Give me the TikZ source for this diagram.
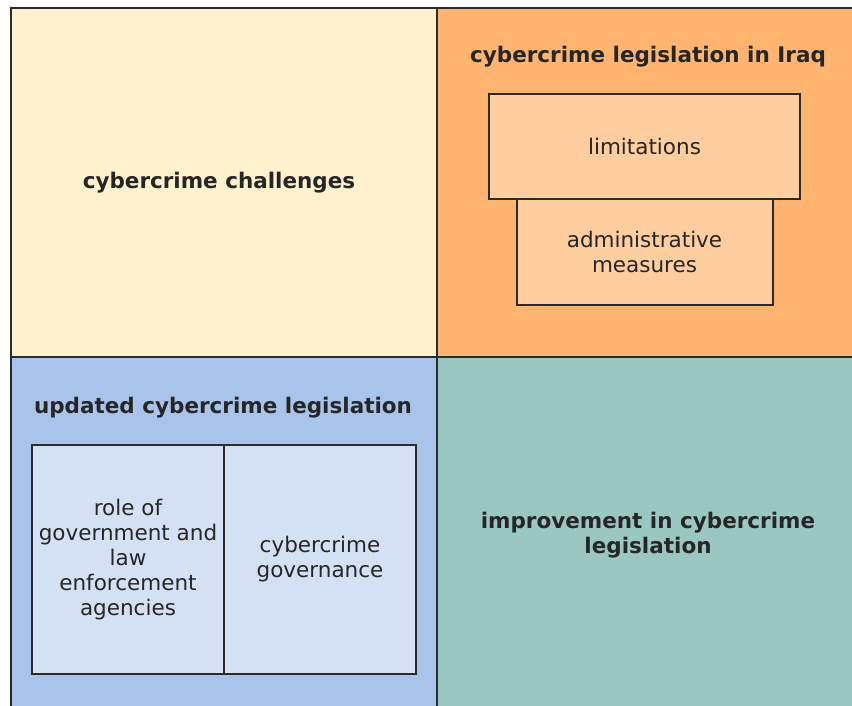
\documentclass[tikz,border=0pt]{standalone}
\usepackage{fontspec}
\setmainfont{DejaVu Sans}
\usetikzlibrary{positioning}

\definecolor{yellowbg}{HTML}{FFF2CC}
\definecolor{orangebg}{HTML}{FFB570}
\definecolor{orangebox}{HTML}{FFCE9F}
\definecolor{bluebg}{HTML}{A9C4EB}
\definecolor{bluebox}{HTML}{D4E1F5}
\definecolor{greenbg}{HTML}{9AC7BF}
\definecolor{edge}{HTML}{2B2B2B}
\definecolor{ink}{HTML}{262626}

\newcommand{\diagfont}{\fontsize{21.5}{25}\selectfont}

\tikzset{
  quad/.style={draw=edge, line width=2.5pt, inner sep=0pt, outer sep=0pt, anchor=north west},
  subbox/.style={draw=edge, line width=2pt, inner sep=2pt, outer sep=0pt, align=center, text=ink},
  title/.style={font=\diagfont\bfseries, text=ink, align=center},
}

\begin{document}
\begin{tikzpicture}[x=1pt, y=-1pt, font=\diagfont]
  \useasboundingbox (0,0) rectangle (852,705);
  \clip (0,0) rectangle (852,705);

  % Quadrants

  \node[quad, fill=yellowbg, minimum width=426pt, minimum height=349pt] (qchal) at (11,8) {};
  \node[quad, fill=orangebg, minimum width=430pt, minimum height=349pt] (qiraq) at (437,8) {};
  \node[quad, fill=bluebg, minimum width=426pt, minimum height=360pt] (qupd) at (11,357) {};
  \node[quad, fill=greenbg, minimum width=430pt, minimum height=360pt] (qimpr) at (437,357) {};

  % Top left

  \node[title] (chal) at (219,183) {cybercrime challenges};

  % Top right

  \node[title] (iraq) at (648,57) {cybercrime legislation in Iraq};
  \node[subbox, fill=orangebox, minimum width=311pt, minimum height=105pt] (limit) at (644.5,146.5) {limitations};
  \node[subbox, fill=orangebox, minimum width=256pt, minimum height=106pt, below=0pt of limit] (admin) {administrative\\measures};

  % Bottom left

  \node[title] (upd) at (223,408) {updated cybercrime legislation};
  \node[subbox, fill=bluebox, minimum width=192pt, minimum height=229pt] (role) at (128,559.5) {role of\\government and\\law\\enforcement\\agencies};
  \node[subbox, fill=bluebox, minimum width=192pt, minimum height=229pt, right=0pt of role] (gov) {cybercrime\\governance};

  % Bottom right

  \node[title] (impr) at (648,535) {improvement in cybercrime\\legislation};

\end{tikzpicture}
\end{document}
